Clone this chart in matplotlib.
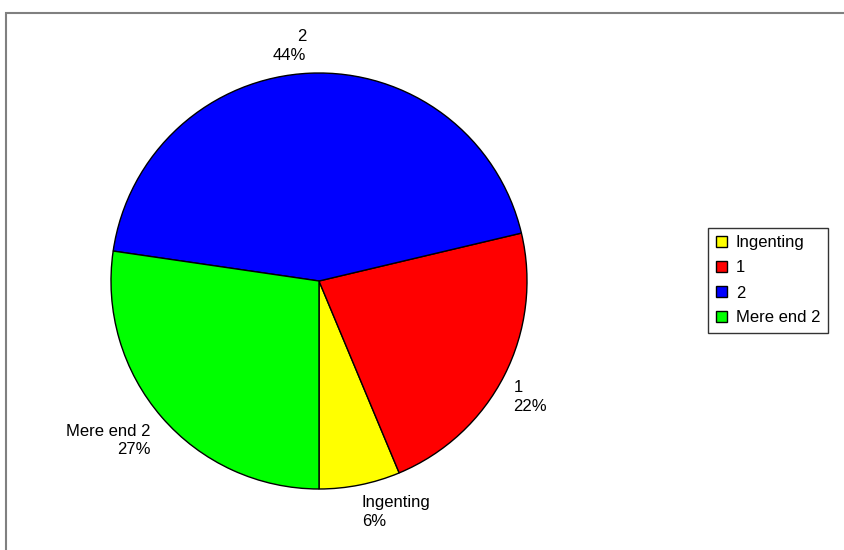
import numpy as np
import matplotlib.pyplot as plt
from matplotlib.patches import Rectangle

plt.rcParams['font.family'] = ['Liberation Sans', 'DejaVu Sans']

# data
categories = ['Ingenting', '1', '2', 'Mere end 2']
values = [6.3, 22.4, 44.0, 27.3]
pct_labels = ['6%', '22%', '44%', '27%']
colors = ['#ffff00', '#ff0000', '#0000ff', '#00ff00']

W, H = 844, 550
fig = plt.figure(figsize=(W / 100, H / 100), dpi=100)
ax = fig.add_axes([0, 0, 1, 1])

# grey frame (top and left edges visible)
ax.add_patch(Rectangle((6, -20), W + 40, H - 13 + 20, fill=False,
                       edgecolor='#808080', linewidth=1.5))

cx, cy, r = 319, H - 281, 208
wedges, _ = ax.pie(values, colors=colors, startangle=270, counterclock=True,
                   center=(cx, cy), radius=r, frame=True,
                   wedgeprops=dict(edgecolor='black', linewidth=1))
ax.set_xlim(0, W)
ax.set_ylim(0, H)
ax.axis('off')

for w, cat, pct in zip(wedges, categories, pct_labels):
    ang = np.deg2rad((w.theta1 + w.theta2) / 2)
    x = cx + 1.05 * r * np.cos(ang)
    y = cy + 1.05 * r * np.sin(ang)
    ha = 'left' if np.cos(ang) > 0 else 'right'
    va = 'bottom' if np.sin(ang) > 0 else 'top'
    ax.text(x - (3 if ha == 'right' else 0), y, cat + '\n' + pct, ha=ha, va=va,
            multialignment=ha, fontsize=12, linespacing=1.3, color='black')

leg = ax.legend(wedges, categories, loc='upper left',
                bbox_to_anchor=(708 / W, 1 - 228 / H),
                bbox_transform=fig.transFigure,
                fontsize=12, frameon=True, fancybox=False,
                edgecolor='black', handlelength=0.66, handleheight=0.66,
                handletextpad=0.55, labelspacing=0.6, borderpad=0.45,
                borderaxespad=0)
leg.get_frame().set_linewidth(1)

fig.savefig('out.png', dpi=100)
